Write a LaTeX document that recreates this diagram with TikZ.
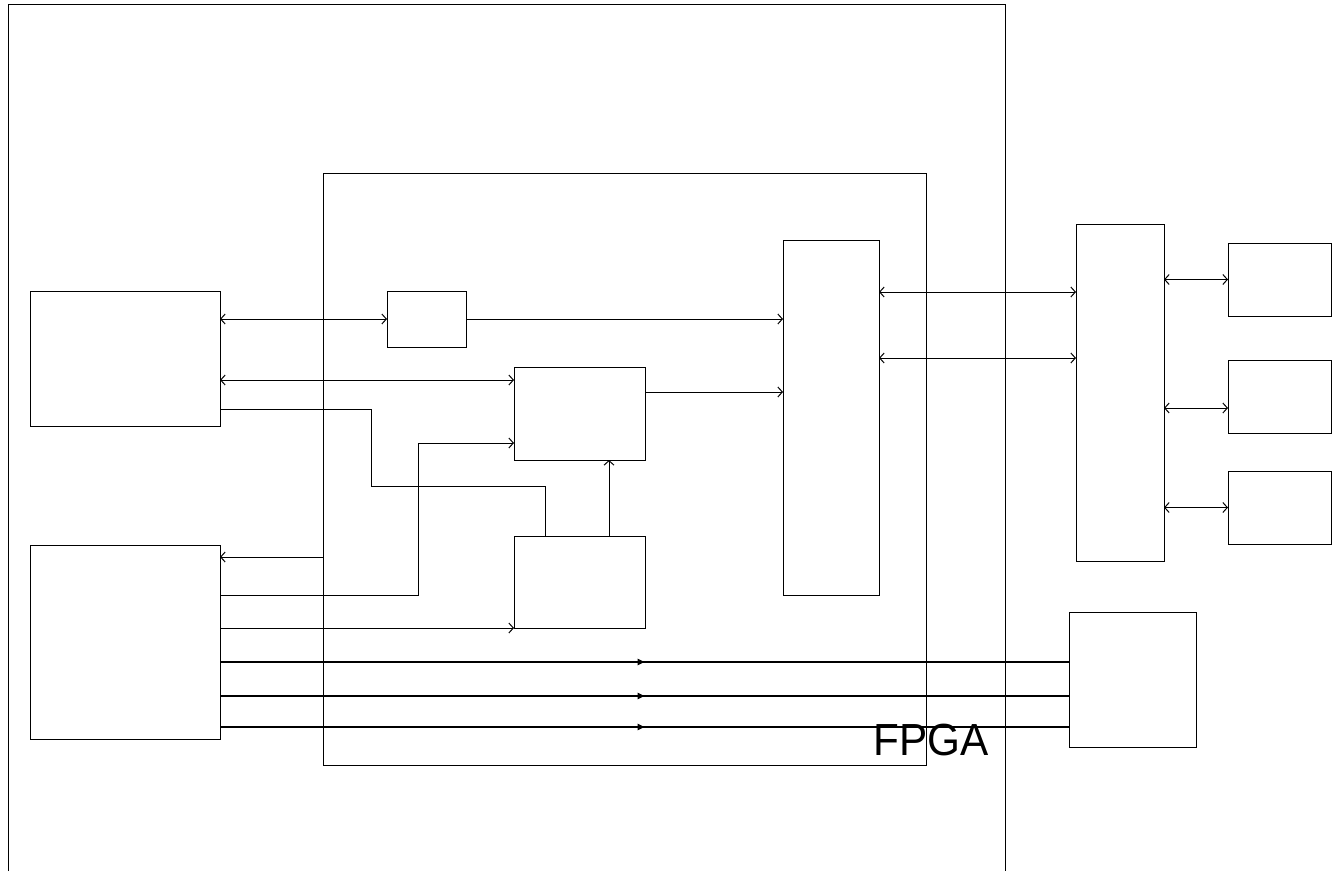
\documentclass[tikz,border=0pt]{standalone}
\usepackage{fontspec}
\setmainfont{Liberation Sans}
\usetikzlibrary{arrows.meta,decorations.markings}
\tikzset{
  box/.style={draw,line width=1pt,rectangle,inner sep=0pt,outer sep=0pt,anchor=north west},
  conn/.style={line width=1pt},
  bi/.style={conn,{Straight Barb[length=4.5pt,width=10pt]}-{Straight Barb[length=4.5pt,width=10pt]}},
  uni/.style={conn,-{Straight Barb[length=4.5pt,width=10pt]}},
  midarrow/.style={line width=1.2pt,postaction={decorate},decoration={markings,mark=at position 0.5 with {\arrow{Triangle[length=7pt,width=6.5pt]}}}}
}
\newcommand\mkbox[5]{\node[box,minimum width=#4pt,minimum height=#5pt] (#1) at (#2,#3) {};}
\begin{document}
\begin{tikzpicture}[x=1pt,y=-1pt]
\useasboundingbox (0,0) rectangle (1339,871);
% outer frame (open at bottom)
\draw[line width=1pt] (8,871) -- (8,4) -- (1005,4) -- (1005,871);
% boxes
\mkbox{inner}{323}{173}{603}{592}
\mkbox{A}{30}{291}{190}{135}
\mkbox{B}{30}{545}{190}{194}
\mkbox{C}{387}{291}{79}{56}
\mkbox{D}{514}{367}{131}{93}
\mkbox{E}{514}{536}{131}{92}
\mkbox{F}{783}{240}{96}{355}
\mkbox{G}{1076}{224}{88}{337}
\mkbox{S1}{1228}{243}{103}{73}
\mkbox{S2}{1228}{360}{103}{73}
\mkbox{S3}{1228}{471}{103}{73}
\mkbox{H}{1069}{612}{127}{135}
% label
\node[anchor=base west,inner sep=0pt,font=\fontsize{45}{45}\selectfont,xscale=0.94] (fpga) at (873,755) {FPGA};
% connectors
\draw[bi] (A.east |- C.west) -- (C.west);
\draw[bi] (A.east |- 0,380) -- (D.west |- 0,380);
\draw[conn] (A.east |- 0,409) -| (371,486) -| (E.north -| 545,0);
\draw[uni] (C.east) -- (F.west |- C.east);
\draw[uni] (D.east |- 0,392) -- (F.west |- 0,392);
\draw[uni] (B.east |- 0,595) -| (418,443) -- (D.west |- 0,443);
\draw[uni] (E.north -| 609,0) -- (D.south -| 609,0);
\draw[uni] (inner.west |- 0,557) -- (B.east |- 0,557);
\draw[uni] (B.east |- 0,628) -- (E.south west);
\draw[midarrow] (B.east |- 0,662) -- (H.west |- 0,662);
\draw[midarrow] (B.east |- 0,696) -- (H.west |- 0,696);
\draw[midarrow] (B.east |- 0,727) -- (H.west |- 0,727);
\draw[bi] (F.east |- 0,292) -- (G.west |- 0,292);
\draw[bi] (F.east |- 0,358) -- (G.west |- 0,358);
\draw[bi] (G.east |- S1.west) -- (S1.west);
\draw[bi] (G.east |- 0,408) -- (S2.west |- 0,408);
\draw[bi] (G.east |- S3.west) -- (S3.west);
\end{tikzpicture}
\end{document}
